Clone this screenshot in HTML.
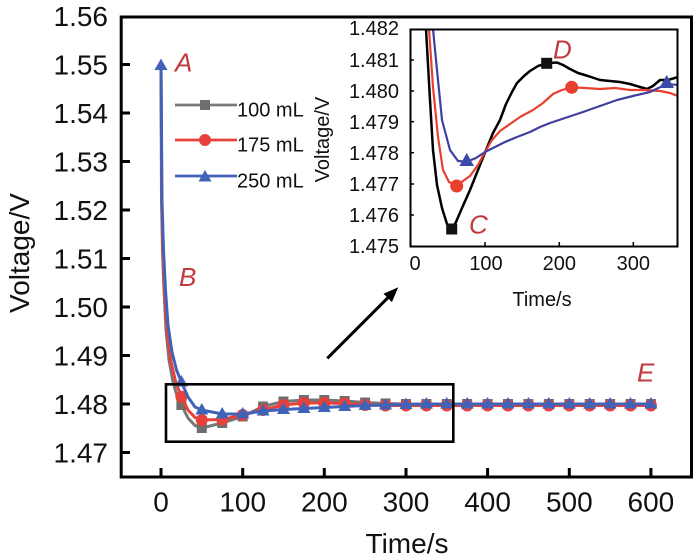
<!DOCTYPE html>
<html><head><meta charset="utf-8"><style>
html,body{margin:0;padding:0;background:#fff;}
svg{display:block;}
text{font-family:"Liberation Sans",Arial,sans-serif;}
</style></head><body>
<svg width="700" height="559" viewBox="0 0 700 559" xmlns="http://www.w3.org/2000/svg">
<defs>
<rect id="sq" x="-5" y="-5" width="10" height="10" fill="#6e6e6e"/>
<circle id="ci" r="6" fill="#e8403a"/>
<polygon id="tr" points="0,-7 6.5,4.5 -6.5,4.5" fill="#4063b8"/>
</defs>
<rect width="700" height="559" fill="#fff"/>

<!-- main y tick labels -->
<g font-size="28" text-anchor="end" fill="#111">
<text x="108" y="26">1.56</text>
<text x="108" y="74.5">1.55</text>
<text x="108" y="123">1.54</text>
<text x="108" y="171.5">1.53</text>
<text x="108" y="220">1.52</text>
<text x="108" y="268.5">1.51</text>
<text x="108" y="317">1.50</text>
<text x="108" y="365.5">1.49</text>
<text x="108" y="414">1.48</text>
<text x="108" y="462.5">1.47</text>
</g>
<!-- main x tick labels -->
<g font-size="28" text-anchor="middle" fill="#111">
<text x="161" y="511.5">0</text>
<text x="242.7" y="511.5">100</text>
<text x="324.3" y="511.5">200</text>
<text x="406" y="511.5">300</text>
<text x="487.6" y="511.5">400</text>
<text x="569.3" y="511.5">500</text>
<text x="650.9" y="511.5">600</text>
</g>
<text x="407" y="553" font-size="28" text-anchor="middle" fill="#111">Time/s</text>
<text transform="translate(29,253) rotate(-90)" font-size="28" text-anchor="middle" fill="#111">Voltage/V</text>

<!-- ticks -->
<g stroke="#000" stroke-width="3">
<line x1="121" y1="64.5" x2="130" y2="64.5"/>
<line x1="121" y1="113" x2="130" y2="113"/>
<line x1="121" y1="161.5" x2="130" y2="161.5"/>
<line x1="121" y1="210" x2="130" y2="210"/>
<line x1="121" y1="258.5" x2="130" y2="258.5"/>
<line x1="121" y1="307" x2="130" y2="307"/>
<line x1="121" y1="355.5" x2="130" y2="355.5"/>
<line x1="121" y1="404" x2="130" y2="404"/>
<line x1="121" y1="452.5" x2="130" y2="452.5"/>
<line x1="161" y1="477" x2="161" y2="468"/>
<line x1="242.7" y1="477" x2="242.7" y2="468"/>
<line x1="324.3" y1="477" x2="324.3" y2="468"/>
<line x1="406" y1="477" x2="406" y2="468"/>
<line x1="487.6" y1="477" x2="487.6" y2="468"/>
<line x1="569.3" y1="477" x2="569.3" y2="468"/>
<line x1="650.9" y1="477" x2="650.9" y2="468"/>
</g>

<!-- main series -->
<path fill="none" stroke="#767676" stroke-width="3" stroke-linejoin="round" d="M161,64.5 L161.5,200 L162.5,250 L164,290 L166,330 L169,360 L173,382 L177,396 L181.4,405 L188,418 L195,425.5 L201.8,428 L222.2,423 L242.7,416.5 L263.1,406.5 L283.5,401.5 L303.9,400 L324.3,400 L344.7,401 L365.1,402.5 L385.5,403.5 L406,404 L650.9,404"/>
<g>
<use href="#sq" x="181.4" y="405"/><use href="#sq" x="201.8" y="428"/><use href="#sq" x="222.2" y="423"/><use href="#sq" x="242.7" y="416.5"/><use href="#sq" x="263.1" y="406.5"/><use href="#sq" x="283.5" y="401.5"/><use href="#sq" x="303.9" y="400"/><use href="#sq" x="324.3" y="400"/><use href="#sq" x="344.7" y="401"/><use href="#sq" x="365.1" y="402.5"/><use href="#sq" x="385.5" y="403.5"/><use href="#sq" x="406" y="404"/><use href="#sq" x="426.4" y="404"/><use href="#sq" x="446.8" y="404"/><use href="#sq" x="467.2" y="404"/><use href="#sq" x="487.6" y="404"/><use href="#sq" x="508" y="404"/><use href="#sq" x="528.4" y="404"/><use href="#sq" x="548.8" y="404"/><use href="#sq" x="569.3" y="404"/><use href="#sq" x="589.7" y="404"/><use href="#sq" x="610.1" y="404"/><use href="#sq" x="630.5" y="404"/><use href="#sq" x="650.9" y="404"/>
</g>
<path fill="none" stroke="#e8403a" stroke-width="3" stroke-linejoin="round" d="M161,64.5 L161.8,200 L163,260 L165,300 L167.5,335 L171,362 L176,383 L181.4,396.7 L188,410 L195,417.5 L201.8,420 L222.2,419.5 L242.7,415 L263.1,410 L283.5,405 L303.9,403 L324.3,403 L344.7,403.5 L365.1,405 L385.5,405.5 L650.9,405.5"/>
<g>
<use href="#ci" x="181.4" y="396.7"/><use href="#ci" x="201.8" y="420"/><use href="#ci" x="222.2" y="419.5"/><use href="#ci" x="242.7" y="415"/><use href="#ci" x="263.1" y="410"/><use href="#ci" x="283.5" y="405"/><use href="#ci" x="303.9" y="403"/><use href="#ci" x="324.3" y="403"/><use href="#ci" x="344.7" y="403.5"/><use href="#ci" x="365.1" y="405"/><use href="#ci" x="385.5" y="405.5"/><use href="#ci" x="406" y="405.5"/><use href="#ci" x="426.4" y="405.5"/><use href="#ci" x="446.8" y="405.5"/><use href="#ci" x="467.2" y="405.5"/><use href="#ci" x="487.6" y="405.5"/><use href="#ci" x="508" y="405.5"/><use href="#ci" x="528.4" y="405.5"/><use href="#ci" x="548.8" y="405.5"/><use href="#ci" x="569.3" y="405.5"/><use href="#ci" x="589.7" y="405.5"/><use href="#ci" x="610.1" y="405.5"/><use href="#ci" x="630.5" y="405.5"/><use href="#ci" x="650.9" y="405.5"/>
</g>
<path fill="none" stroke="#4063b8" stroke-width="3" stroke-linejoin="round" d="M161,64.5 L162,200 L163.5,250 L165.5,290 L168,325 L172,352 L176.5,370 L181.4,382 L188,397 L195,407 L201.8,410 L222.2,414 L242.7,414 L263.1,411 L283.5,409.5 L303.9,408.5 L324.3,407.5 L344.7,406.5 L365.1,405.5 L385.5,405 L406,404.5 L426.4,404 L650.9,404"/>
<g>
<use href="#tr" x="161" y="65.5"/>
<use href="#tr" x="181.4" y="382"/><use href="#tr" x="201.8" y="410"/><use href="#tr" x="222.2" y="414"/><use href="#tr" x="242.7" y="414"/><use href="#tr" x="263.1" y="411"/><use href="#tr" x="283.5" y="409.5"/><use href="#tr" x="303.9" y="408.5"/><use href="#tr" x="324.3" y="407.5"/><use href="#tr" x="344.7" y="406.5"/><use href="#tr" x="365.1" y="405.5"/><use href="#tr" x="385.5" y="405"/><use href="#tr" x="406" y="404.5"/><use href="#tr" x="426.4" y="404"/><use href="#tr" x="446.8" y="404"/><use href="#tr" x="467.2" y="404"/><use href="#tr" x="487.6" y="404"/><use href="#tr" x="508" y="404"/><use href="#tr" x="528.4" y="404"/><use href="#tr" x="548.8" y="404"/><use href="#tr" x="569.3" y="404"/><use href="#tr" x="589.7" y="404"/><use href="#tr" x="610.1" y="404"/><use href="#tr" x="630.5" y="404"/><use href="#tr" x="650.9" y="404"/>
</g>

<!-- zoom box -->
<rect x="166" y="384.3" width="287.3" height="57.4" fill="none" stroke="#000" stroke-width="2.6"/>

<!-- arrow -->
<line x1="327.3" y1="358.3" x2="390" y2="295.6" stroke="#000" stroke-width="3"/>
<polygon points="398.3,287.3 391.9,302.1 383.5,293.7" fill="#000"/>

<!-- legend -->
<g stroke-width="2.8">
<line x1="175" y1="105" x2="237" y2="105" stroke="#7a7a7a"/>
<line x1="175" y1="140" x2="237" y2="140" stroke="#e8403a"/>
<line x1="175" y1="176" x2="237" y2="176" stroke="#4063b8"/>
</g>
<use href="#sq" x="205" y="105"/>
<use href="#ci" x="205" y="140"/>
<use href="#tr" x="205" y="177"/>
<g font-size="20" fill="#111">
<text x="237" y="116.5">100 mL</text>
<text x="237" y="151.5">175 mL</text>
<text x="237" y="187.5">250 mL</text>
</g>

<!-- letters -->
<g font-size="26" font-style="italic" fill="#c23a3e">
<text x="175" y="71.7">A</text>
<text x="179" y="286">B</text>
<text x="637" y="381.7">E</text>
<text x="469" y="233.3">C</text>
<text x="553" y="58.3">D</text>
</g>

<!-- inset -->
<g font-size="20" text-anchor="end" fill="#111">
<text x="399" y="35">1.482</text>
<text x="399" y="67">1.481</text>
<text x="399" y="98">1.480</text>
<text x="399" y="129">1.479</text>
<text x="399" y="160">1.478</text>
<text x="399" y="191">1.477</text>
<text x="399" y="222">1.476</text>
<text x="399" y="253">1.475</text>
</g>
<g font-size="20" text-anchor="middle" fill="#111">
<text x="415" y="270">0</text>
<text x="486" y="270">100</text>
<text x="559.3" y="270">200</text>
<text x="633.3" y="270">300</text>
<text x="542" y="306">Time/s</text>
</g>
<text transform="translate(329,139.5) rotate(-90)" font-size="20" text-anchor="middle" fill="#111">Voltage/V</text>
<g stroke="#000" stroke-width="1.5">
<line x1="410.5" y1="60" x2="414" y2="60"/>
<line x1="410.5" y1="91" x2="414" y2="91"/>
<line x1="410.5" y1="121.7" x2="414" y2="121.7"/>
<line x1="410.5" y1="152.7" x2="414" y2="152.7"/>
<line x1="410.5" y1="184" x2="414" y2="184"/>
<line x1="410.5" y1="215" x2="414" y2="215"/>
<line x1="485" y1="246" x2="485" y2="242"/>
<line x1="559.3" y1="246" x2="559.3" y2="242"/>
<line x1="633.3" y1="246" x2="633.3" y2="242"/>
</g>
<svg x="410.5" y="29.5" width="267" height="217" viewBox="410.5 29.5 267 217" overflow="hidden">
<g fill="none" stroke-width="2.2" stroke-linejoin="round">
<path stroke="#000" stroke-width="2.5" d="M426,29 L430,100 L433,150 L437,185 L442,208 L447,224 L451.7,229 L456,222 L462,208 L470,190 L478,170 L486,150 L493,133 L500,120 L506,104 L512,92 L517,83 L524,76 L530,71 L538,66 L546.7,63.3 L557,62.5 L563,65 L570,69 L578,73 L588,76 L600,80 L610,81 L620,82 L630,84 L640,87 L647,89 L653,86 L660,80 L668,80 L678,77"/>
<path stroke="#e8402f" d="M429,29 L433,87 L438,137 L443,170 L449,182 L456.7,186 L463,181 L470,176 L478,165 L485,152 L492,140 L500,131 L510,124 L520,117 L533,110 L543,103 L553,94 L562,90 L571.7,87.3 L585,88 L600,89 L615,88 L630,90 L645,90 L660,91 L670,93 L678,96"/>
<path stroke="#4040a0" d="M433,29 L437,70 L442,120 L450,150 L458,161 L466.7,161.7 L476,158 L485,152 L495,147 L505,142 L517,137 L530,132 L540,127 L550,123 L565,118 L583,112 L600,106 L617,100 L633,96 L650,92 L666.7,84 L678,85"/>
</g>
<rect x="446.2" y="223.5" width="11" height="11" fill="#111"/>
<rect x="541.2" y="57.8" width="11" height="11" fill="#111"/>
<circle cx="456.7" cy="186" r="6.5" fill="#e8402f"/>
<circle cx="571.7" cy="87.3" r="6.5" fill="#e8402f"/>
<polygon points="466.7,153 474,166 459.4,166" fill="#3a4aa8"/>
<polygon points="666.7,75 674,88 659.4,88" fill="#3a4aa8"/>
</svg>
<rect x="410.5" y="29.5" width="267" height="217" fill="none" stroke="#000" stroke-width="2"/>

<!-- main frame -->
<rect x="121.2" y="17" width="570.3" height="460" fill="none" stroke="#000" stroke-width="3"/>
</svg>
</body></html>
